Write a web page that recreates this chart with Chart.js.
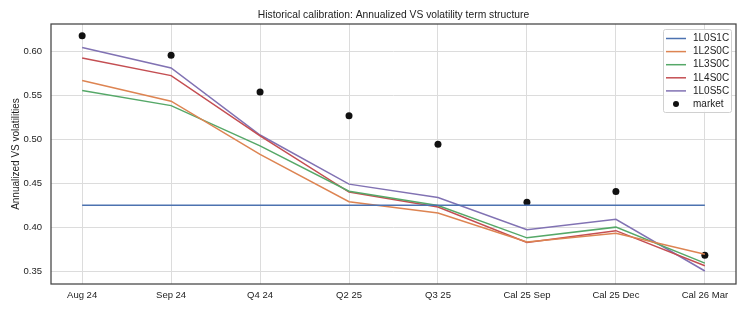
<!DOCTYPE html>
<html>
<head>
<meta charset="utf-8">
<script src="https://cdn.jsdelivr.net/npm/chart.js@4/dist/chart.umd.min.js"></script>
<style>
  html, body { margin: 0; padding: 0; background: #fff; }
  #wrap { width: 747px; height: 312px; }
</style>
</head>
<body>
<div id="wrap"><canvas id="volChart" width="747" height="312"></canvas></div>
<script>
// Contract labels along the x axis
const labels = ['Aug 24', 'Sep 24', 'Q4 24', 'Q2 25', 'Q3 25', 'Cal 25 Sep', 'Cal 25 Dec', 'Cal 26 Mar'];

// Model calibrations (annualized VS vols)
const s1L0S1C = [0.425, 0.425, 0.425, 0.425, 0.425, 0.425, 0.425, 0.425];
const s1L2S0C = [0.567, 0.5435, 0.483, 0.429, 0.416, 0.383, 0.393, 0.369];
const s1L3S0C = [0.5556, 0.5385, 0.4926, 0.441, 0.4246, 0.3878, 0.400, 0.359];
const s1L4S0C = [0.5928, 0.5727, 0.504, 0.440, 0.423, 0.3825, 0.396, 0.356];
const s1L0S5C = [0.6046, 0.5814, 0.505, 0.449, 0.4337, 0.397, 0.409, 0.350];

// Market quotes
const market = [0.618, 0.596, 0.554, 0.527, 0.4945, 0.4285, 0.4405, 0.368];

const yTicks = [0.35, 0.40, 0.45, 0.50, 0.55, 0.60];

const TITLE = 'Historical calibration: Annualized VS volatility term structure';
const FONT = "'Liberation Sans', Arial, sans-serif";

function pts(arr) {
    return arr.map((v, i) => ({ x: i, y: v }));
}

function lineSet(label, data, color) {
    return {
        type: 'line',
        label: label,
        data: pts(data),
        borderColor: color,
        backgroundColor: color,
        borderWidth: 1.5,
        pointRadius: 0,
        fill: false,
        tension: 0
    };
}

// Frame, title over the plot and a matplotlib-like legend inside it
const framePlugin = {
    id: 'frameAndLegend',
    afterDraw(chart) {
        const ctx = chart.ctx;
        const a = chart.chartArea;
        ctx.save();
        ctx.strokeStyle = '#444';
        ctx.lineWidth = 1.25;
        ctx.strokeRect(a.left, a.top, a.right - a.left, a.bottom - a.top);

        // title centred on the plot area
        ctx.fillStyle = '#222';
        ctx.font = '10.3px ' + FONT;
        ctx.textAlign = 'center';
        ctx.textBaseline = 'middle';
        ctx.fillText(TITLE, (a.left + a.right) / 2, a.top - 9);

        // legend box
        const sets = chart.data.datasets;
        const rowH = 13.1;
        const boxW = 68, boxH = 83;
        const bx = a.right - 5 - boxW, by = a.top + 5;
        ctx.fillStyle = 'rgba(255,255,255,0.85)';
        ctx.strokeStyle = '#d0d0d0';
        ctx.lineWidth = 1;
        ctx.beginPath();
        ctx.roundRect(bx + 0.5, by + 0.5, boxW, boxH, 2);
        ctx.fill();
        ctx.stroke();

        ctx.font = '10px ' + FONT;
        ctx.textAlign = 'left';
        sets.forEach((ds, i) => {
            const cy = by + 9.5 + i * rowH;
            if (ds.type === 'scatter') {
                ctx.fillStyle = ds.backgroundColor;
                ctx.beginPath();
                ctx.arc(bx + 13, cy, 3, 0, Math.PI * 2);
                ctx.fill();
            } else {
                ctx.strokeStyle = ds.borderColor;
                ctx.lineWidth = 1.5;
                ctx.beginPath();
                ctx.moveTo(bx + 3, cy);
                ctx.lineTo(bx + 23, cy);
                ctx.stroke();
            }
            ctx.fillStyle = '#222';
            ctx.fillText(ds.label, bx + 30, cy);
        });
        ctx.restore();
    }
};

let ctx = document.getElementById('volChart').getContext('2d');
let volChart = new Chart(ctx, {
    data: {
        datasets: [
            lineSet('1L0S1C', s1L0S1C, '#4C72B0'),
            lineSet('1L2S0C', s1L2S0C, '#DD8452'),
            lineSet('1L3S0C', s1L3S0C, '#55A868'),
            lineSet('1L4S0C', s1L4S0C, '#C44E52'),
            lineSet('1L0S5C', s1L0S5C, '#8172B3'),
            {
                type: 'scatter',
                label: 'market',
                data: pts(market),
                backgroundColor: '#111',
                borderColor: '#111',
                pointRadius: 3.5,
                borderWidth: 0
            }
        ]
    },
    options: {
        responsive: false,
        animation: false,
        layout: { padding: { left: 0, right: 11, top: 24, bottom: 0 } },
        plugins: {
            legend: { display: false },
            tooltip: { enabled: false },
            title: { display: false }
        },
        scales: {
            x: {
                type: 'linear',
                min: -0.35,
                max: 7.35,
                afterFit: s => { s.height = 28; },
                afterBuildTicks: s => { s.ticks = labels.map((l, i) => ({ value: i })); },
                ticks: {
                    includeBounds: false,
                    autoSkip: false,
                    maxRotation: 0,
                    color: '#222',
                    padding: 6,
                    font: { family: FONT, size: 9.5 },
                    callback: v => labels[v]
                },
                grid: { color: '#dcdcdc', lineWidth: 1, drawTicks: false },
                border: { display: false }
            },
            y: {
                type: 'linear',
                min: 0.3352,
                max: 0.6315,
                afterFit: s => { s.width = 51; },
                afterBuildTicks: s => { s.ticks = yTicks.map(v => ({ value: v })); },
                ticks: {
                    includeBounds: false,
                    color: '#222',
                    padding: 9,
                    font: { family: FONT, size: 9.5 },
                    callback: v => v.toFixed(2)
                },
                title: {
                    display: true,
                    text: 'Annualized VS volatilities',
                    color: '#222',
                    font: { family: FONT, size: 10 },
                    padding: { top: 10, bottom: 0 }
                },
                grid: { color: '#dcdcdc', lineWidth: 1, drawTicks: false },
                border: { display: false }
            }
        }
    },
    plugins: [framePlugin]
});
</script>
</body>
</html>
